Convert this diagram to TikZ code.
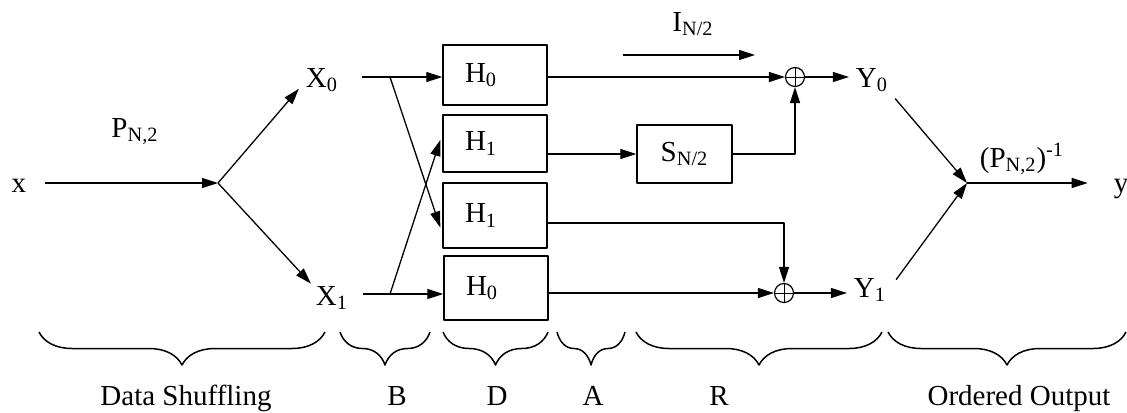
\documentclass[tikz,border=0pt]{standalone}
\usepackage{fontspec}
\setmainfont{Liberation Serif}
\usetikzlibrary{arrows.meta,calc,decorations.pathreplacing}
\tikzset{
  txt/.style={font=\fontsize{14.5}{16}\selectfont},
  blk/.style={txt,draw,line width=0.7pt,minimum width=52pt,text width=30pt,inner xsep=11pt,inner ysep=0pt,align=left},
  sbox/.style={txt,draw,line width=0.7pt,minimum width=47.5pt,minimum height=29pt,inner sep=0pt},
  adder/.style={draw,circle,line width=0.6pt,minimum size=9.5pt,inner sep=0pt,
    path picture={\draw[line width=0.5pt] (path picture bounding box.north) -- (path picture bounding box.south)
      (path picture bounding box.west) -- (path picture bounding box.east);}},
  arr/.style={-{Triangle[length=8pt,width=5pt]},line width=0.65pt},
  brc/.style={decorate,decoration={brace,mirror,amplitude=16.5pt},line width=0.75pt},
}
\begin{document}
\begin{tikzpicture}[x=0.5pt,y=-0.5pt,line join=round]
\useasboundingbox (0,0) rectangle (1127,412);
% blocks
\node[blk,minimum height=30pt] (H0t) at (495,75) {H\textsubscript{0}};
\node[blk,minimum height=28.5pt] (H1t) at (495,143.5) {H\textsubscript{1}};
\node[blk,minimum height=32.5pt] (H1b) at (495,215.5) {H\textsubscript{1}};
\node[blk,minimum height=32pt] (H0b) at (496,288) {H\textsubscript{0}};
\node[sbox] (Sb) at (684.5,154) {S\textsubscript{N/2}};
\node[adder] (add0) at (795,77) {};
\node[adder] (add1) at (784,293) {};
% signals
\node[txt,anchor=base] (x) at (19,192) {x};
\node[txt,anchor=base] (X0) at (322,87) {X\textsubscript{0}};
\node[txt,anchor=base] (X1) at (332,305) {X\textsubscript{1}};
\node[txt,anchor=base] (Y0) at (872,87) {Y\textsubscript{0}};
\node[txt,anchor=base] (Y1) at (870,297) {Y\textsubscript{1}};
\node[txt,anchor=base] (y) at (1121,192) {y};
\node[txt,anchor=base] (P) at (135,137) {P\textsubscript{N,2}};
\node[txt,anchor=base] (Pinv) at (1022,167) {(P\textsubscript{N,2})\textsuperscript{-1}};
\node[txt,anchor=base] (I) at (693,31) {I\textsubscript{N/2}};
\coordinate (split) at (218,183);
\coordinate (merge) at (967,183);
\coordinate (s0) at (390,77);
\coordinate (s1) at (390,294);
\coordinate (i0) at (623,55);
\coordinate (i1) at (755,55);
% shuffling
\draw[arr] ($(x.east |- split)+(12,0)$) -- (split);
\draw[arr] (split) -- ($(X0.west)+(0,9)$);
\draw[arr] (split) -- ($(X1.west)+(2,-14)$);
% butterfly
\draw[line width=0.65pt] ($(X0.east |- s0)+(17,0)$) -- (s0);
\draw[line width=0.65pt] ($(X1.east |- s1)+(8,0)$) -- (s1);
\draw[arr] (s0) -- (H0t.west |- s0);
\draw[arr] (s0) -- ($(H1b.west)+(-2,12)$);
\draw[arr] (s1) -- (H0b.west |- s1);
\draw[arr] (s1) -- ($(H1t.west)+(-2,-3.5)$);
% recombination
\draw[arr] (i0) -- (i1);
\draw[arr] (H0t.east |- add0) -- (add0);
\draw[arr] (H1t.east |- Sb) -- (Sb);
\draw[arr] (Sb.east) -| (add0);
\draw[arr] ($(H1b.east)+(0,7.5)$) -| (add1);
\draw[arr] (H0b.east |- add1) -- (add1);
\draw[arr] (add0) -- (add0 -| Y0.west);
\draw[arr] (add1) -- (add1 -| Y1.west);
% output
\draw[arr] (Y0.south east) -- (merge);
\draw[arr] ($(Y1.east)+(3,-10)$) -- (merge);
\draw[arr] (merge) -- ($(merge -| y.west)+(-19,0)$);
% stages
\draw[brc] (39,332) -- (325,332);
\draw[brc] (340,332) -- (430,332);
\draw[brc] (443,332) -- (548,332);
\draw[brc] (557,332) -- (625,332);
\draw[brc] (636,332) -- (882,332);
\draw[brc] (888,332) -- (1126,332);
\node[txt,anchor=base] (lDS) at (186,405) {Data Shuffling};
\node[txt,anchor=base] (lB) at (397,405) {B};
\node[txt,anchor=base] (lD) at (497,405) {D};
\node[txt,anchor=base] (lA) at (593,405) {A};
\node[txt,anchor=base] (lR) at (719,405) {R};
\node[txt,anchor=base] (lOO) at (1019,405) {Ordered Output};
\end{tikzpicture}
\end{document}
